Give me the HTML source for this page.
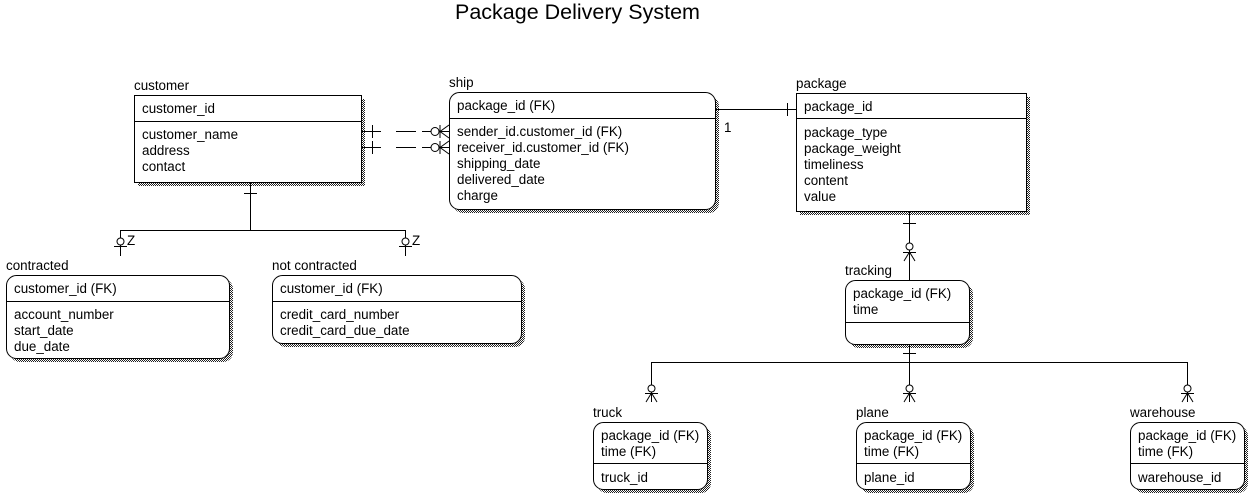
<!DOCTYPE html>
<html><head><meta charset="utf-8"><style>
body{margin:0;background:#fff;width:1252px;height:498px;overflow:hidden}
svg text{font-family:"Liberation Sans",Arial,sans-serif;font-size:13.4px;fill:#000}
</style></head><body>
<svg width="1252" height="498" viewBox="0 0 1252 498" xmlns="http://www.w3.org/2000/svg">
<defs>
<pattern id="sh" width="2" height="2" patternUnits="userSpaceOnUse"><rect width="2" height="2" fill="#fff"/><rect width="1" height="1" fill="#222"/><rect x="1" y="1" width="1" height="1" fill="#222"/></pattern>
</defs>
<text x="455" y="19" style="font-size:21.5px">Package Delivery System</text>
<g stroke="#000" stroke-width="1" fill="none">
<rect x="138" y="99" width="227" height="87" fill="url(#sh)" stroke="none"/>
<rect x="453" y="96" width="266" height="117" rx="10" fill="url(#sh)" stroke="none"/>
<rect x="800" y="97" width="230" height="118" fill="url(#sh)" stroke="none"/>
<rect x="849" y="284" width="124" height="64" rx="10" fill="url(#sh)" stroke="none"/>
<rect x="10" y="279" width="223" height="83" rx="10" fill="url(#sh)" stroke="none"/>
<rect x="276" y="279" width="249" height="68" rx="10" fill="url(#sh)" stroke="none"/>
<rect x="597" y="426" width="114" height="67" rx="10" fill="url(#sh)" stroke="none"/>
<rect x="860" y="426" width="114" height="67" rx="10" fill="url(#sh)" stroke="none"/>
<rect x="1134" y="426" width="114" height="67" rx="10" fill="url(#sh)" stroke="none"/>
<rect x="134.5" y="95.5" width="227" height="87" fill="#fff"/><line x1="134" y1="121.5" x2="361" y2="121.5"/>
<rect x="449.5" y="92.5" width="266" height="117" rx="10" fill="#fff"/><line x1="449" y1="118.5" x2="715" y2="118.5"/>
<rect x="796.5" y="93.5" width="230" height="118" fill="#fff"/><line x1="796" y1="118.5" x2="1026" y2="118.5"/>
<rect x="845.5" y="280.5" width="124" height="64" rx="10" fill="#fff"/><line x1="845" y1="322.5" x2="969" y2="322.5"/>
<rect x="6.5" y="275.5" width="223" height="83" rx="10" fill="#fff"/><line x1="6" y1="301.5" x2="229" y2="301.5"/>
<rect x="272.5" y="275.5" width="249" height="68" rx="10" fill="#fff"/><line x1="272" y1="301.5" x2="521" y2="301.5"/>
<rect x="593.5" y="422.5" width="114" height="67" rx="10" fill="#fff"/><line x1="593" y1="463.5" x2="707" y2="463.5"/>
<rect x="856.5" y="422.5" width="114" height="67" rx="10" fill="#fff"/><line x1="856" y1="463.5" x2="970" y2="463.5"/>
<rect x="1130.5" y="422.5" width="114" height="67" rx="10" fill="#fff"/><line x1="1130" y1="463.5" x2="1244" y2="463.5"/>
<line x1="362" y1="131.5" x2="449" y2="131.5" stroke-dasharray="19,15,20,6,40"/>
<line x1="362" y1="147.5" x2="449" y2="147.5" stroke-dasharray="19,15,20,6,40"/>
<line x1="372.5" y1="125" x2="372.5" y2="138"/><line x1="372.5" y1="141" x2="372.5" y2="154"/>
<circle cx="435" cy="131.5" r="4" fill="#fff"/><circle cx="435" cy="147.5" r="4" fill="#fff"/>
<path d="M440 125 V138 M440 131.5 L449 125 M440 131.5 L449 138"/>
<path d="M440 141 V154 M440 147.5 L449 141 M440 147.5 L449 154"/>
<line x1="715" y1="109.5" x2="796" y2="109.5"/><line x1="787.5" y1="103" x2="787.5" y2="116"/>
<line x1="250.5" y1="183" x2="250.5" y2="230"/><line x1="244" y1="193.5" x2="257" y2="193.5"/>
<line x1="120.5" y1="230.5" x2="405.5" y2="230.5"/>
<line x1="120.5" y1="230" x2="120.5" y2="256"/><line x1="405.5" y1="230" x2="405.5" y2="256"/>
<circle cx="120.5" cy="241.5" r="3.5" fill="#fff"/><circle cx="405.5" cy="241.5" r="3.5" fill="#fff"/>
<line x1="114" y1="246.5" x2="127" y2="246.5"/><line x1="399" y1="246.5" x2="412" y2="246.5"/>
<line x1="909.5" y1="212" x2="909.5" y2="280"/><line x1="903" y1="223.5" x2="916" y2="223.5"/>
<circle cx="909.5" cy="246.5" r="3.5" fill="#fff"/>
<path d="M903 252.5 H916 M909.5 252 L904 261 M909.5 252 L915 261 M909.5 252 V261"/>
<line x1="909.5" y1="345" x2="909.5" y2="402"/><line x1="903" y1="353.5" x2="916" y2="353.5"/>
<line x1="651.5" y1="362.5" x2="1187.5" y2="362.5"/>
<line x1="651.5" y1="362" x2="651.5" y2="402"/><line x1="1187.5" y1="362" x2="1187.5" y2="402"/>
<circle cx="651.5" cy="388.5" r="3.5" fill="#fff"/><circle cx="909.5" cy="388.5" r="3.5" fill="#fff"/><circle cx="1187.5" cy="388.5" r="3.5" fill="#fff"/>
<path d="M645 393.5 H658 M651.5 393 L646 402 M651.5 393 L657 402 M651.5 393 V402"/>
<path d="M903 393.5 H916 M909.5 393 L904 402 M909.5 393 L915 402"/>
<path d="M1181 393.5 H1194 M1187.5 393 L1182 402 M1187.5 393 L1193 402 M1187.5 393 V402"/>
</g>
<text x="134" y="90">customer</text>
<text x="142" y="113">customer_id</text>
<text x="142" y="139">customer_name</text><text x="142" y="155">address</text><text x="142" y="171">contact</text>
<text x="449" y="87">ship</text>
<text x="457" y="110">package_id (FK)</text>
<text x="457" y="136">sender_id.customer_id (FK)</text><text x="457" y="152">receiver_id.customer_id (FK)</text>
<text x="457" y="168">shipping_date</text><text x="457" y="184">delivered_date</text><text x="457" y="200">charge</text>
<text x="724" y="132">1</text>
<text x="796" y="88">package</text>
<text x="804" y="111">package_id</text>
<text x="804" y="137">package_type</text><text x="804" y="153">package_weight</text><text x="804" y="169">timeliness</text><text x="804" y="185">content</text><text x="804" y="201">value</text>
<text x="845" y="275">tracking</text>
<text x="853" y="298">package_id (FK)</text><text x="853" y="314">time</text>
<text x="127" y="245">Z</text><text x="412" y="245">Z</text>
<text x="6" y="270">contracted</text>
<text x="14" y="293">customer_id (FK)</text>
<text x="14" y="319">account_number</text><text x="14" y="335">start_date</text><text x="14" y="351">due_date</text>
<text x="272" y="270">not contracted</text>
<text x="280" y="293">customer_id (FK)</text>
<text x="280" y="319">credit_card_number</text><text x="280" y="335">credit_card_due_date</text>
<text x="593" y="417">truck</text>
<text x="601" y="440">package_id (FK)</text><text x="601" y="456">time (FK)</text><text x="601" y="482">truck_id</text>
<text x="856" y="417">plane</text>
<text x="864" y="440">package_id (FK)</text><text x="864" y="456">time (FK)</text><text x="864" y="482">plane_id</text>
<text x="1130" y="417">warehouse</text>
<text x="1138" y="440">package_id (FK)</text><text x="1138" y="456">time (FK)</text><text x="1138" y="482">warehouse_id</text>
</svg>
</body></html>
